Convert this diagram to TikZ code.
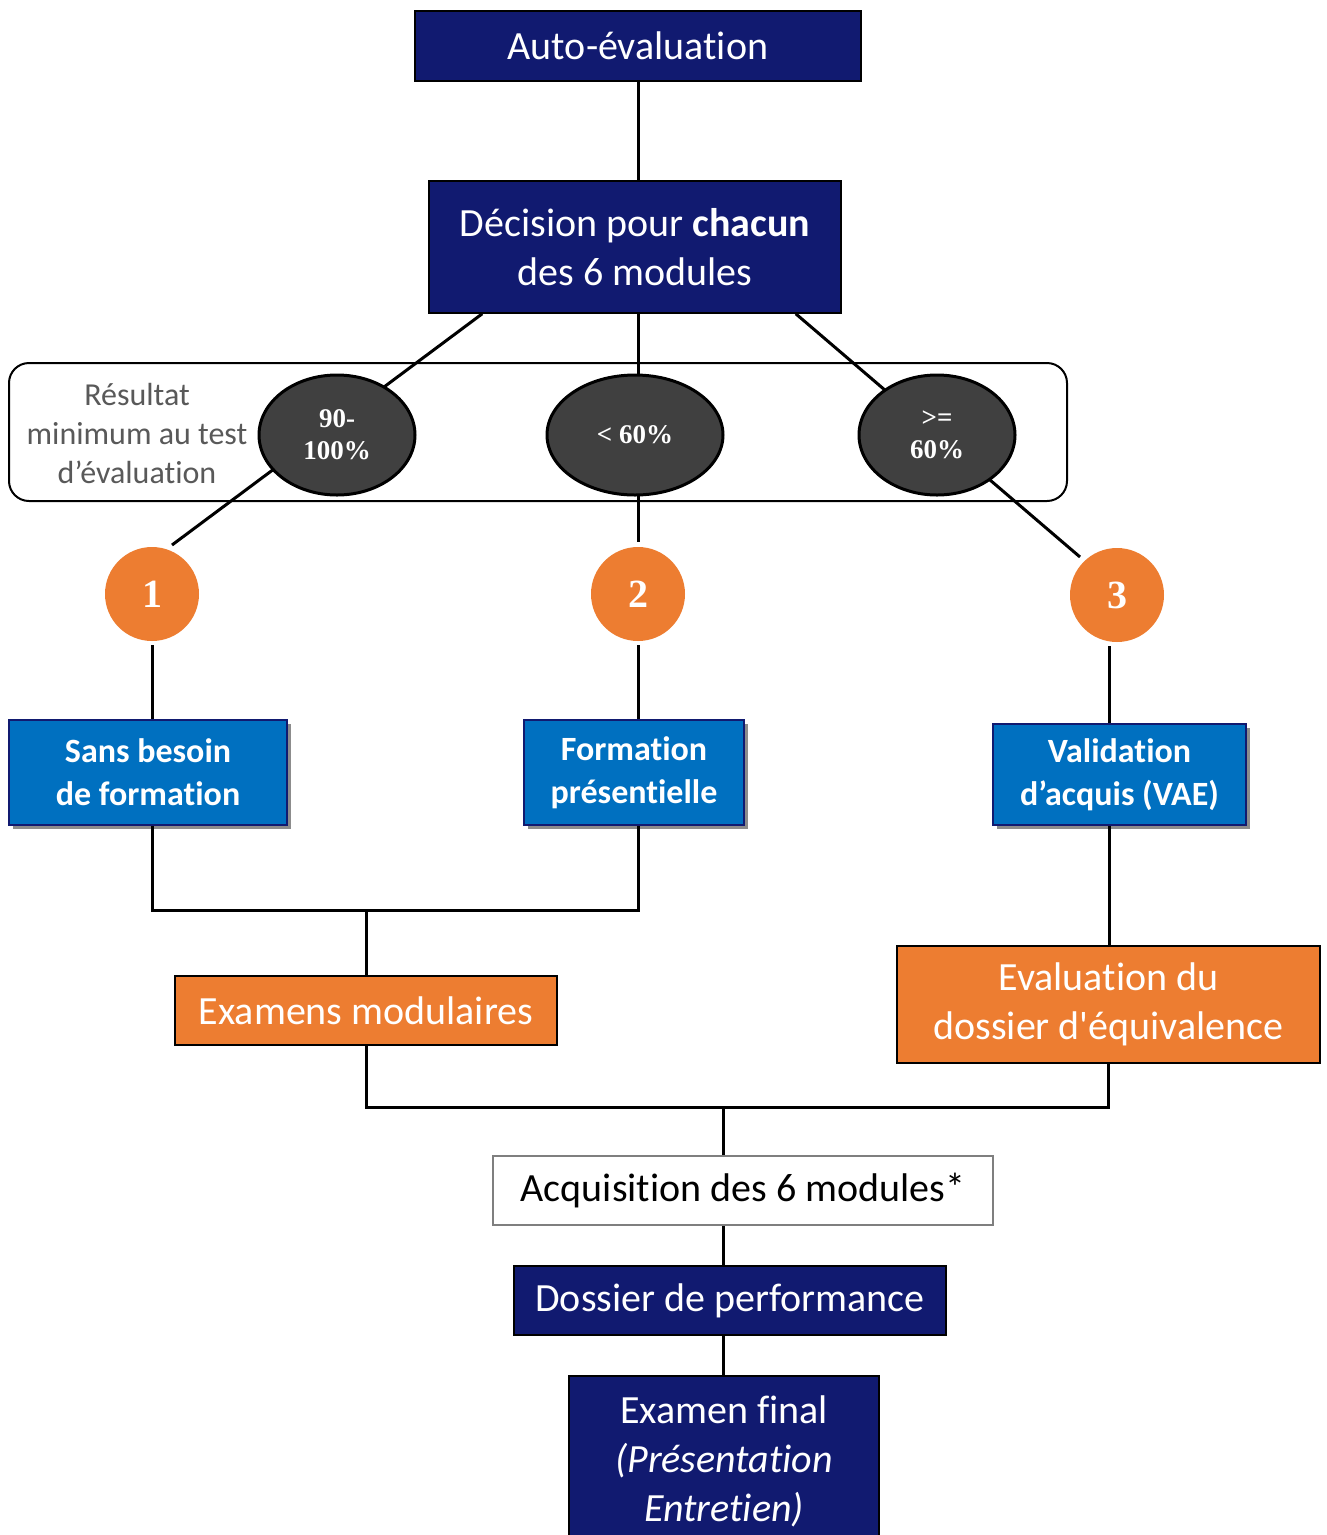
\documentclass[tikz,border=0pt]{standalone}
\usepackage{fontspec}
\setmainfont{Carlito}[Ligatures={TeX,NoCommon}]
\newfontfamily\timesf{Liberation Serif}
\usetikzlibrary{shapes.geometric,shadows,calc}
\definecolor{navy}{HTML}{111A70}
\definecolor{mblue}{HTML}{0070C0}
\definecolor{morange}{HTML}{ED7D31}
\definecolor{dgray}{HTML}{404040}
\definecolor{lgray}{HTML}{595959}
\definecolor{bgray}{HTML}{7F7F7F}
\tikzset{
  navybox/.style={draw=black, line width=1.5, fill=navy, text=white, align=center, inner sep=0,
    font=\fontsize{40}{49}\selectfont},
  bluebox/.style={draw=navy, line width=1.5, fill=mblue, text=white, align=center, inner sep=0,
    font=\bfseries\fontsize{34}{43}\selectfont,
    drop shadow={shadow xshift=4pt, shadow yshift=-4pt, opacity=0.45, fill=black}},
  orangebox/.style={draw=black, line width=1.5, fill=morange, text=white, align=center, inner sep=0,
    font=\fontsize{40}{49}\selectfont},
  numcircle/.style={circle, fill=morange, minimum size=94, inner sep=0, text=white,
    font=\timesf\bfseries\fontsize{40}{40}\selectfont},
  scoreell/.style={ellipse, draw=black, line width=3, fill=dgray, minimum height=120, inner sep=0,
    text=white, align=center, font=\timesf\bfseries\fontsize{27}{32}\selectfont},
  conn/.style={draw=black, line width=3}
}
\begin{document}
\begin{tikzpicture}[x=1pt,y=-1pt]
\useasboundingbox (0,0) rectangle (1327,1535);
\clip (0,0) rectangle (1327,1535);
\fill[white] (0,0) rectangle (1327,1535);

% top boxes
\node[navybox, minimum width=446, minimum height=70] (auto) at (638,46) {Auto-évaluation};
\node[navybox, minimum width=412, minimum height=132] (dec) at (635,247) {Décision pour \textbf{chacun}\\des 6 modules};

% band
\node[draw=black, line width=2, rounded corners=20, minimum width=1058, minimum height=138, inner sep=0] (band) at (538,432) {};
\node[text=lgray, align=center, font=\fontsize{32}{39}\selectfont] (lab) at (137,433) {Résultat\\minimum au test\\d’évaluation};

% circles
\node[numcircle] (c1) at (152,594) {1};
\node[numcircle] (c2) at (638,594) {2};
\node[numcircle] (c3) at (1117,595) {3};

% connectors from decision to circles
\draw[conn] (auto) -- (auto |- dec.north);
\coordinate (d1) at ($(dec.south west)+(54,0)$);
\coordinate (k1) at ($(c1.center)+(20,-49)$);
\coordinate (d3) at ($(dec.south east)+(-46,0)$);
\coordinate (k3) at ($(c3.center)+(-37,-38)$);
\draw[conn] (d1) -- (k1);
\draw[conn, shorten >=5] (dec.south -| c2) -- (c2.north);
\draw[conn] (d3) -- (k3);

% ellipses
\node[scoreell, minimum width=156] (e1) at (337,435) {90-\\100\%};
\node[scoreell, minimum width=176] (e2) at (635,435) {< 60\%};
\node[scoreell, minimum width=156] (e3) at (937,435) {>=\\60\%};

% blue boxes
\node[bluebox, minimum width=278, minimum height=105] (b1) at (148,772.5) {Sans besoin\\de formation};
\node[bluebox, minimum width=220, minimum height=105] (b2) at (634,772.5) {Formation\\présentielle};
\node[bluebox, minimum width=253, minimum height=101] (b3) at (1119.5,774.5) {Validation\\d’acquis (VAE)};

\draw[conn, shorten <=4] (c1.south) -- (c1.south |- b1.north);
\draw[conn, shorten <=4] (c2.south) -- (c2.south |- b2.north);
\coordinate (v3) at ($(b3.north)+(-10,0)$);
\draw[conn, shorten <=4] (v3 |- c3.south) -- (v3);

% orange boxes
\node[orangebox, minimum width=382, minimum height=69] (em) at (366,1010.5) {Examens modulaires};
\node[orangebox, minimum width=423, minimum height=117] (ed) at (1108.5,1004.5) {Evaluation du\\dossier d\textquotesingle équivalence};

\coordinate (jm) at ($(em.north)+(0,-65)$);
\draw[conn] (b1.south -| c1) |- (jm) -| (b2.south -| c2);
\draw[conn] (jm) -- (em.north);
\draw[conn] (b3.south -| v3) -- (v3 |- ed.north);

% bottom
\node[draw=bgray, line width=2, fill=white, minimum width=500, minimum height=69, inner sep=0,
  font=\fontsize{40}{49}\selectfont] (acq) at (743,1190.5) {Acquisition des 6 modules*};
\node[navybox, minimum width=432, minimum height=69] (dp) at (730,1300.5) {Dossier de performance};
\node[navybox, minimum width=310, minimum height=170] (ef) at (724,1461) {Examen final\\\textit{(Présentation}\\\textit{Entretien)}};

\coordinate (jb) at ($(acq.north)+(-20,-48)$);
\draw[conn] (em.south) |- (jb) -| (ed.south);
\draw[conn] (jb) -- (jb |- acq.north);
\draw[conn] (jb |- acq.south) -- (jb |- dp.north);
\draw[conn] (jb |- dp.south) -- (jb |- ef.north);
\end{tikzpicture}
\end{document}
